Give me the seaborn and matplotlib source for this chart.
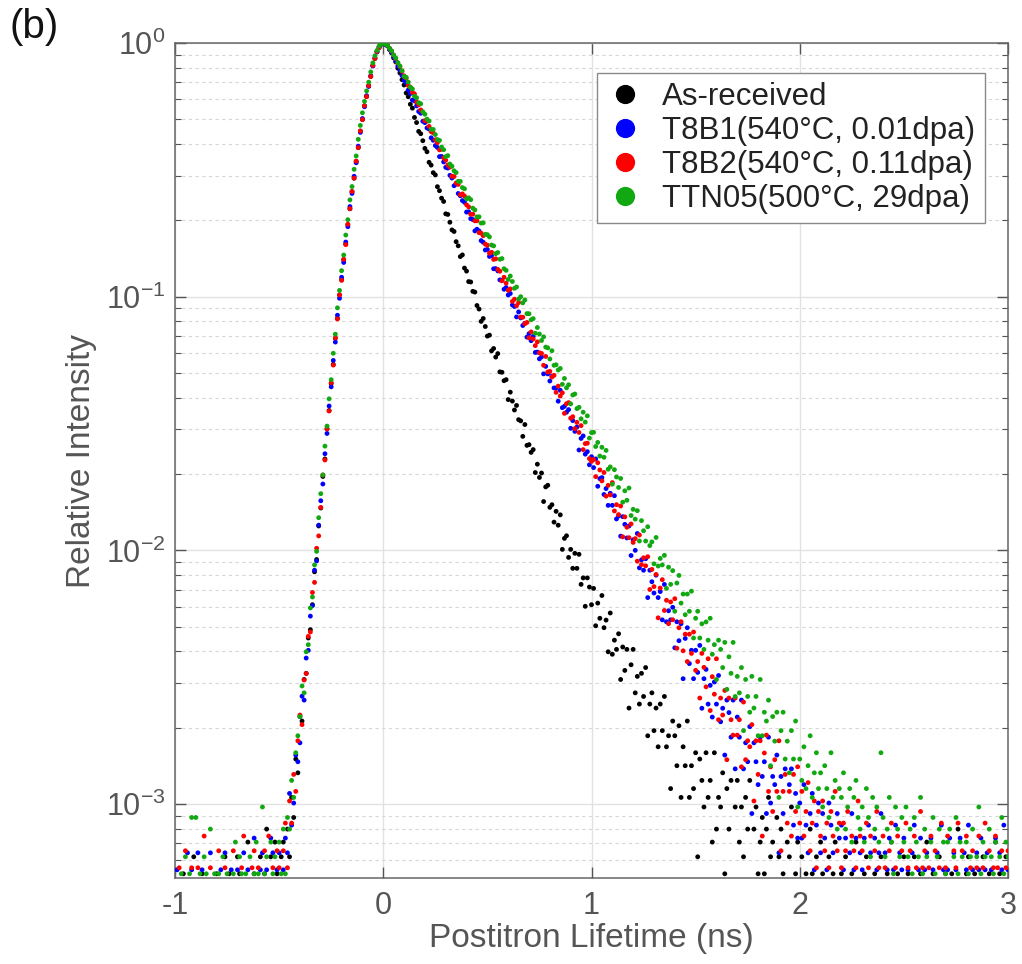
import numpy as np
import pandas as pd
import matplotlib
matplotlib.use("Agg")
import matplotlib.pyplot as plt
from matplotlib.ticker import LogLocator, NullFormatter, FixedLocator
import seaborn as sns

# Positron lifetime spectra: counts per time channel, channel 0 at -1.00 ns
T_START = -1.0
CHANNEL_NS = 0.01

samples = ["As-received", "T8B1(540°C, 0.01dpa)", "T8B2(540°C, 0.11dpa)", "TTN05(500°C, 29dpa)"]
sample_colors = ["#000000", "#0000ff", "#ff0000", "#12a812"]

# one row = 0.1 ns (10 channels)
counts_as_received = [
    3, 5, 4, 2, 6, 4, 5, 3, 4, 7,
    4, 3, 5, 6, 2, 4, 5, 3, 4, 5,
    6, 3, 4, 5, 7, 4, 6, 3, 5, 4,
    7, 6, 4, 5, 3, 8, 5, 4, 6, 4,
    5, 7, 4, 6, 9, 5, 7, 4, 8, 6,
    5, 7, 8, 5, 9, 7, 12, 10, 17, 15,
    25, 24, 35, 37, 51, 55, 69, 93, 104, 141,
    166, 221, 259, 341, 402, 514, 611, 775, 928, 1147,
    1318, 1580, 1822, 2171, 2509, 2931, 3312, 3860, 4371, 5082,
    5640, 6391, 6945, 7668, 8340, 9213, 9811, 10460, 10842, 11195,
    11300, 11170, 11020, 10655, 10340, 9872, 9521, 8990, 8610, 8097,
    7719, 7178, 6938, 6478, 6255, 5748, 5489, 5066, 4960, 4655,
    4341, 4211, 3826, 3729, 3483, 3412, 3067, 2957, 2763, 2682,
    2397, 2384, 2221, 2071, 2042, 1862, 1793, 1626, 1651, 1465,
    1425, 1296, 1291, 1186, 1178, 1043, 1010, 903, 927, 862,
    790, 797, 691, 706, 653, 674, 571, 569, 527, 532,
    444, 475, 438, 404, 421, 370, 366, 318, 354, 293,
    295, 275, 282, 229, 247, 219, 228, 176, 201, 204,
    167, 171, 146, 161, 142, 156, 114, 126, 129, 106,
    114, 96, 110, 96, 109, 83, 88, 68, 88, 81,
    69, 80, 57, 70, 61, 75, 56, 60, 45, 64,
    44, 50, 46, 53, 35, 47, 38, 46, 27, 40,
    46, 31, 36, 28, 37, 30, 39, 21, 28, 31,
    22, 27, 19, 28, 22, 30, 19, 21, 13, 24,
    21, 16, 23, 12, 19, 16, 24, 12, 16, 13,
    18, 7, 17, 14, 11, 18, 12, 14, 8, 18,
    9, 12, 11, 15, 6, 13, 9, 14, 4, 11,
    14, 8, 11, 7, 12, 9, 14, 5, 9, 11,
    6, 8, 10, 6, 9, 12, 7, 8, 5, 10,
    7, 9, 6, 5, 8, 7, 11, 4, 6, 8,
    5, 7, 5, 6, 4, 9, 6, 3, 7, 5,
    8, 6, 4, 5, 7, 3, 6, 8, 4, 5,
    6, 5, 7, 3, 4, 6, 5, 8, 4, 5,
    3, 6, 7, 4, 5, 2, 6, 4, 5, 7,
    3, 5, 6, 4, 8, 5, 3, 6, 4, 5,
    7, 4, 6, 5, 3, 7, 5, 4, 6, 2,
    5, 8, 4, 5, 6, 3, 4, 7, 5, 4,
    6, 5, 3, 6, 4, 5, 9, 4, 5, 3,
    6, 7, 4, 5, 6, 2, 5, 4, 7, 5,
    3, 6, 4, 5, 8, 4, 6, 3, 5, 7,
    4,
]

counts_t8b1 = [
    4, 6, 3, 5, 5, 2, 7, 4, 6, 3,
    5, 7, 4, 6, 3, 5, 4, 7, 5, 4,
    3, 5, 6, 4, 7, 5, 3, 6, 4, 5,
    6, 4, 3, 7, 5, 6, 4, 5, 8, 3,
    5, 6, 7, 4, 6, 5, 8, 7, 5, 6,
    7, 5, 6, 8, 7, 12, 9, 11, 17, 16,
    19, 29, 28, 41, 44, 60, 66, 91, 99, 137,
    171, 199, 262, 315, 404, 481, 611, 722, 921, 1074,
    1300, 1487, 1790, 2058, 2469, 2783, 3251, 3676, 4272, 4843,
    5491, 6110, 6757, 7346, 8101, 8840, 9525, 10041, 10510, 10755,
    10900, 10781, 10615, 10290, 9990, 9578, 9250, 8829, 8511, 8115,
    7769, 7598, 7110, 6890, 6491, 6441, 6158, 5856, 5761, 5359,
    5291, 5041, 4995, 4610, 4507, 4297, 4223, 3887, 3892, 3703,
    3526, 3503, 3279, 3199, 2984, 3027, 2781, 2726, 2608, 2568,
    2349, 2355, 2213, 2195, 1980, 2010, 1978, 1813, 1786, 1665,
    1673, 1571, 1581, 1404, 1406, 1378, 1269, 1263, 1166, 1185,
    1107, 1122, 1011, 997, 907, 949, 899, 839, 856, 755,
    779, 731, 759, 657, 659, 620, 631, 541, 579, 541,
    507, 530, 476, 476, 422, 466, 398, 403, 382, 391,
    330, 354, 321, 334, 271, 301, 308, 261, 267, 237,
    255, 231, 250, 195, 209, 211, 181, 191, 164, 183,
    164, 179, 145, 149, 124, 148, 138, 122, 136, 104,
    120, 109, 127, 93, 100, 91, 101, 71, 91, 82,
    74, 87, 71, 75, 58, 80, 57, 63, 58, 65,
    45, 57, 48, 56, 34, 49, 54, 39, 44, 34,
    44, 36, 46, 26, 34, 37, 27, 32, 24, 33,
    27, 35, 23, 26, 17, 28, 25, 20, 28, 15,
    24, 20, 28, 15, 19, 16, 22, 10, 19, 16,
    13, 20, 14, 16, 10, 20, 11, 14, 13, 17,
    7, 14, 10, 15, 5, 13, 15, 9, 12, 8,
    11, 8, 13, 9, 7, 10, 12, 6, 9, 11,
    7, 10, 8, 6, 11, 9, 7, 5, 10, 8,
    9, 6, 8, 5, 7, 10, 6, 8, 4, 7,
    6, 8, 5, 9, 7, 4, 8, 6, 7, 10,
    5, 7, 6, 8, 4, 6, 9, 5, 7, 6,
    8, 5, 6, 4, 7, 9, 5, 6, 8, 3,
    6, 7, 5, 8, 6, 4, 7, 5, 9, 6,
    4, 6, 8, 5, 7, 6, 3, 8, 5, 7,
    6, 9, 5, 6, 4, 7, 6, 8, 5, 6,
    7, 5, 6, 4, 8, 5, 7, 6, 9, 5,
    6,
]

counts_t8b2 = [
    5, 3, 6, 4, 4, 7, 3, 5, 6, 2,
    4, 6, 5, 3, 8, 4, 5, 6, 3, 5,
    4, 7, 5, 3, 6, 4, 5, 4, 7, 3,
    5, 4, 6, 8, 4, 5, 3, 6, 7, 4,
    6, 5, 4, 7, 5, 8, 4, 6, 5, 7,
    6, 4, 7, 9, 6, 11, 9, 14, 12, 19,
    24, 22, 33, 35, 49, 51, 73, 80, 109, 122,
    158, 212, 243, 322, 379, 490, 575, 736, 874, 1088,
    1241, 1502, 1716, 2065, 2380, 2781, 3140, 3662, 4141, 4811,
    5340, 6051, 6578, 7262, 7901, 8725, 9296, 9904, 10268, 10601,
    10700, 10612, 10480, 10196, 9941, 9580, 9301, 8918, 8640, 8281,
    7946, 7788, 7279, 7161, 6832, 6742, 6258, 6105, 5827, 5710,
    5289, 5266, 5017, 4784, 4732, 4446, 4330, 4056, 4083, 3776,
    3692, 3534, 3469, 3196, 3185, 3004, 2965, 2700, 2720, 2667,
    2463, 2418, 2263, 2262, 2130, 2131, 1913, 1904, 1862, 1724,
    1707, 1587, 1601, 1501, 1509, 1371, 1348, 1236, 1276, 1210,
    1134, 1148, 1025, 1046, 986, 1014, 889, 888, 837, 847,
    737, 777, 729, 686, 710, 643, 639, 574, 622, 540,
    543, 516, 524, 449, 475, 434, 447, 371, 405, 409,
    355, 360, 323, 342, 312, 332, 267, 282, 283, 246,
    240, 244, 209, 237, 222, 201, 217, 175, 193, 177,
    198, 153, 162, 148, 160, 121, 145, 132, 120, 136,
    115, 119, 97, 123, 94, 100, 93, 101, 75, 90,
    77, 86, 58, 76, 82, 62, 68, 55, 67, 57,
    69, 44, 53, 56, 43, 50, 39, 50, 42, 51,
    36, 39, 28, 42, 37, 31, 40, 25, 34, 29,
    40, 23, 28, 24, 30, 16, 28, 23, 20, 28,
    20, 23, 15, 27, 16, 19, 18, 22, 11, 19,
    14, 19, 8, 17, 20, 12, 15, 10, 16, 12,
    19, 7, 12, 14, 9, 12, 8, 14, 10, 15,
    9, 12, 8, 10, 13, 7, 9, 11, 6, 10,
    8, 11, 7, 9, 6, 10, 8, 12, 7, 9,
    6, 9, 7, 10, 5, 8, 7, 6, 11, 8,
    7, 5, 9, 6, 8, 4, 7, 10, 6, 5,
    8, 6, 4, 7, 9, 5, 6, 8, 3, 7,
    5, 9, 6, 7, 4, 8, 6, 5, 10, 6,
    7, 4, 6, 8, 5, 7, 3, 6, 9, 5,
    6, 8, 5, 4, 7, 6, 9, 5, 7, 4,
    8, 5, 6, 7, 3, 6, 8, 5, 6, 9,
    5, 7, 4, 6, 8, 6, 5, 7, 4, 6,
    7,
]

counts_ttn05 = [
    4, 3, 5, 6, 4, 7, 5, 6, 10, 4,
    10, 5, 6, 4, 7, 6, 3, 9, 5, 6,
    4, 6, 5, 7, 3, 6, 5, 4, 6, 8,
    5, 7, 6, 4, 6, 3, 7, 5, 6, 8,
    6, 4, 11, 6, 7, 5, 8, 6, 7, 5,
    8, 6, 9, 6, 10, 9, 14, 12, 18, 21,
    25, 33, 31, 45, 48, 67, 74, 99, 112, 152,
    189, 224, 291, 349, 447, 532, 676, 804, 1021, 1196,
    1431, 1649, 1977, 2273, 2721, 3071, 3590, 4052, 4714, 5348,
    5998, 6652, 7313, 7921, 8690, 9437, 10063, 10561, 10998, 11204,
    11300, 11190, 11071, 10768, 10530, 10139, 9852, 9459, 9171, 8790,
    8346, 8272, 7932, 7571, 7446, 6972, 6878, 6576, 6508, 6053,
    5919, 5663, 5564, 5163, 5155, 4923, 4706, 4666, 4394, 4290,
    4028, 4065, 3768, 3693, 3543, 3486, 3220, 3217, 3041, 3009,
    2747, 2773, 2726, 2524, 2483, 2331, 2333, 2204, 2208, 1990,
    1984, 1944, 1806, 1792, 1670, 1687, 1587, 1597, 1456, 1435,
    1321, 1363, 1297, 1219, 1234, 1106, 1130, 1068, 1097, 969,
    968, 916, 926, 811, 854, 805, 759, 785, 715, 710,
    642, 692, 606, 609, 581, 589, 510, 538, 494, 508,
    427, 463, 467, 409, 414, 373, 396, 362, 383, 313,
    329, 330, 290, 301, 266, 288, 263, 280, 236, 241,
    206, 235, 220, 200, 217, 175, 194, 178, 199, 155,
    164, 150, 162, 123, 148, 135, 123, 140, 118, 122,
    100, 127, 98, 105, 99, 108, 80, 97, 83, 94,
    65, 84, 90, 70, 76, 63, 76, 65, 78, 51,
    61, 65, 51, 58, 46, 59, 50, 61, 44, 48,
    35, 50, 46, 39, 49, 32, 43, 37, 49, 30,
    36, 31, 39, 22, 35, 30, 26, 36, 27, 30,
    21, 35, 21, 26, 24, 29, 16, 25, 20, 26,
    12, 22, 26, 17, 20, 15, 22, 17, 24, 11,
    17, 14, 19, 13, 16, 21, 12, 15, 18, 13,
    15, 11, 16, 13, 10, 18, 12, 14, 9, 13,
    12, 15, 9, 11, 13, 8, 12, 14, 10, 9,
    11, 8, 13, 10, 7, 12, 9, 11, 8, 18,
    10, 7, 9, 12, 8, 6, 11, 9, 7, 10,
    8, 11, 7, 9, 6, 10, 8, 7, 12, 6,
    9, 7, 5, 8, 10, 6, 7, 9, 4, 8,
    6, 8, 9, 5, 7, 10, 6, 8, 7, 5,
    8, 6, 7, 9, 5, 7, 11, 6, 8, 7,
    5, 9, 7, 6, 8, 4, 7, 10, 6, 8,
    7,
]

x_ticks = [-1, 0, 1, 2, 3]
x_tick_labels = ["-1", "0", "1", "2", "3"]

sns.set_style("ticks")
plt.rcParams["font.family"] = ["Liberation Sans", "DejaVu Sans"]
plt.rcParams["axes.unicode_minus"] = False
plt.rcParams["mathtext.fontset"] = "custom"
plt.rcParams["mathtext.rm"] = "Liberation Sans"
plt.rcParams["mathtext.it"] = "Liberation Sans:italic"
plt.rcParams["mathtext.bf"] = "Liberation Sans:bold"

# normalise every spectrum to its own peak channel
frames = []
for name, counts in zip(samples, [counts_as_received, counts_t8b1, counts_t8b2, counts_ttn05]):
    c = np.asarray(counts, dtype=float)
    t = T_START + CHANNEL_NS * np.arange(c.size)
    keep = c > 0
    frames.append(pd.DataFrame({"t": t[keep], "intensity": c[keep] / c.max(), "sample": name}))
spectra = pd.concat(frames, ignore_index=True)

label_gray = "#555555"
fig = plt.figure(figsize=(10.22, 9.64), dpi=100)
ax = fig.add_axes([175 / 1022, 1 - 878 / 964, 833 / 1022, 835 / 964])

sns.scatterplot(
    data=spectra, x="t", y="intensity", hue="sample", hue_order=samples,
    palette=dict(zip(samples, sample_colors)), s=12, linewidth=0,
    edgecolor="none", ax=ax, legend=True, zorder=3,
)

ax.set_yscale("log")
ax.set_xlim(-1, 3)
ax.set_ylim(5.11e-4, 1.0)

ax.xaxis.set_major_locator(FixedLocator(x_ticks))
ax.set_xticklabels(x_tick_labels)
ax.yaxis.set_major_locator(LogLocator(base=10, numticks=10))
ax.yaxis.set_minor_locator(LogLocator(base=10, subs=np.arange(2, 10), numticks=20))
ax.yaxis.set_minor_formatter(NullFormatter())

ax.set_axisbelow(True)
ax.grid(which="major", color="#e2e2e2", linestyle="-", linewidth=1.0)
ax.grid(which="minor", axis="y", color="#d6d6d6", linestyle=(0, (3, 3)), linewidth=0.8)

ax.tick_params(which="both", direction="in", top=True, right=True,
               color=label_gray, labelcolor=label_gray, labelsize=22)
ax.tick_params(which="major", length=8, width=1.0)
ax.tick_params(which="minor", length=4, width=0.8)
ax.tick_params(axis="x", pad=9)
ax.tick_params(axis="y", pad=7)
for side in ax.spines.values():
    side.set_color("#666666")
    side.set_linewidth(1.1)

ax.set_xlabel("Postitron Lifetime (ns)", fontsize=24, color=label_gray, labelpad=2)
ax.set_ylabel("Relative Intensity", fontsize=24, color=label_gray, labelpad=6)

sns.move_legend(
    ax, "upper right", bbox_to_anchor=(0.972, 0.964), title=None,
    frameon=True, fancybox=False, framealpha=1, edgecolor="#8a8a8a",
    fontsize=22.5, markerscale=4.0, handlelength=1.2, handletextpad=0.6,
    labelspacing=0.12, borderpad=0.3, borderaxespad=0,
)
leg = ax.get_legend()
leg.get_frame().set_linewidth(1.0)
for txt in leg.get_texts():
    txt.set_color("#222222")

fig.text(0.009, 0.992, "(b)", fontsize=29, ha="left", va="top", color="#111111")

fig.savefig("out.png", dpi=100)
